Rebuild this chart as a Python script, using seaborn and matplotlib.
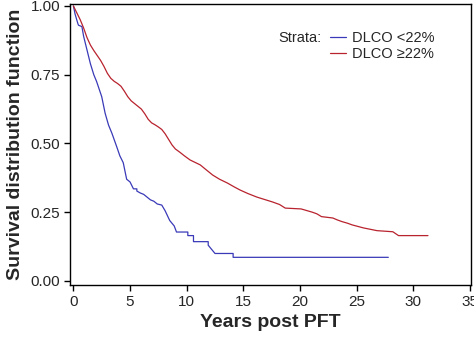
import matplotlib
matplotlib.use("Agg")
import matplotlib.pyplot as plt
import seaborn as sns
import pandas as pd

# --- data (Kaplan-Meier curve vertices) ---
strata_labels = ["DLCO <22%", "DLCO \u226522%"]

low_years = [0, 0.15, 0.4, 0.45, 0.75, 0.9, 1.2, 1.5, 1.8, 2.05, 2.5, 2.8, 3.1,
             3.4, 3.85, 4.1, 4.4, 4.7, 5.0, 5.3, 5.6, 5.6, 5.9, 6.2, 6.5, 6.8,
             7.1, 7.4, 7.8, 8.1, 8.5, 8.9, 9.1, 10.1, 10.1, 10.6, 10.6, 11.9,
             11.9, 12.1, 12.5, 14.1, 14.1, 27.8]
low_surv = [1.0, 0.97, 0.935, 0.93, 0.925, 0.89, 0.84, 0.79, 0.75, 0.725, 0.67,
            0.61, 0.567, 0.537, 0.485, 0.455, 0.43, 0.37, 0.36, 0.335, 0.335,
            0.327, 0.32, 0.315, 0.305, 0.295, 0.29, 0.28, 0.276, 0.255, 0.22,
            0.2, 0.178, 0.178, 0.165, 0.165, 0.143, 0.143, 0.13, 0.12, 0.10,
            0.10, 0.086, 0.086]

high_years = [0, 0.3, 0.6, 0.9, 1.2, 1.5, 1.8, 2.1, 2.4, 2.7, 3.0, 3.3, 3.6, 3.9,
              4.2, 4.5, 4.8, 5.1, 5.4, 5.7, 6.0, 6.3, 6.6, 6.9, 7.2, 7.5, 7.8, 8.1,
              8.4, 8.7, 9.0, 9.4, 9.8, 10.3, 10.8, 11.2, 11.7, 12.3, 12.9, 13.6,
              14.2, 14.7, 15.4, 16.2, 16.9, 17.6, 18.2, 18.7, 20.1, 20.6, 21.1,
              21.5, 21.9, 22.9, 23.3, 23.7, 24.2, 24.6, 25.6, 26.2, 26.8, 28.2,
              28.7, 31.3]
high_surv = [1.0, 0.975, 0.95, 0.92, 0.885, 0.858, 0.838, 0.82, 0.802, 0.78, 0.755,
             0.737, 0.726, 0.718, 0.708, 0.69, 0.67, 0.655, 0.645, 0.635, 0.625,
             0.608, 0.588, 0.575, 0.568, 0.56, 0.551, 0.535, 0.515, 0.495, 0.48,
             0.468, 0.455, 0.44, 0.43, 0.422, 0.405, 0.385, 0.37, 0.356, 0.342,
             0.331, 0.318, 0.305, 0.296, 0.287, 0.278, 0.265, 0.262, 0.256, 0.25,
             0.244, 0.234, 0.229, 0.222, 0.216, 0.21, 0.204, 0.193, 0.188, 0.183,
             0.179, 0.165, 0.165]

x_ticks = [0, 5, 10, 15, 20, 25, 30, 35]
y_ticks = [0.00, 0.25, 0.50, 0.75, 1.00]

df = pd.concat([
    pd.DataFrame({"Years": low_years, "Survival": low_surv, "Strata": strata_labels[0]}),
    pd.DataFrame({"Years": high_years, "Survival": high_surv, "Strata": strata_labels[1]}),
], ignore_index=True)

sns.set_style("ticks")
plt.rcParams["font.family"] = ["Liberation Sans", "DejaVu Sans"]

fig = plt.figure(figsize=(4.74, 3.37), dpi=100)
ax = fig.add_axes([0.1477, 0.154, 0.846, 0.834])

palette = {strata_labels[0]: "#3a3ab8", strata_labels[1]: "#b8232e"}
sns.lineplot(data=df, x="Years", y="Survival", hue="Strata", palette=palette,
             estimator=None, sort=False, linewidth=0.9, ax=ax)

ax.set_xlim(-0.3, 35.1)
ax.set_ylim(-0.015, 1.007)
ax.set_xticks(x_ticks)
ax.set_xticklabels([str(v) for v in x_ticks], fontsize=11)
ax.set_yticks(y_ticks)
ax.set_yticklabels([f"{v:.2f}" for v in y_ticks], fontsize=11)
ax.tick_params(direction="out", length=4, width=1, color="black", pad=3)
for s in ax.spines.values():
    s.set_visible(True)
    s.set_color("black")
    s.set_linewidth(1)

ax.set_xlabel("Years post PFT", fontsize=14, fontweight="bold", labelpad=4)
ax.set_ylabel("Survival distribution function", fontsize=14, fontweight="bold", labelpad=5)

sns.move_legend(ax, loc="center left", bbox_to_anchor=(0.648, 0.85), frameon=False,
                title=None, fontsize=10.5, handlelength=1.1, handletextpad=0.4,
                labelspacing=0.15, borderaxespad=0, borderpad=0)
ax.text(0.519, 0.879, "Strata:", transform=ax.transAxes, fontsize=10.5,
        va="center", ha="left")

fig.savefig("out.png", dpi=100)
